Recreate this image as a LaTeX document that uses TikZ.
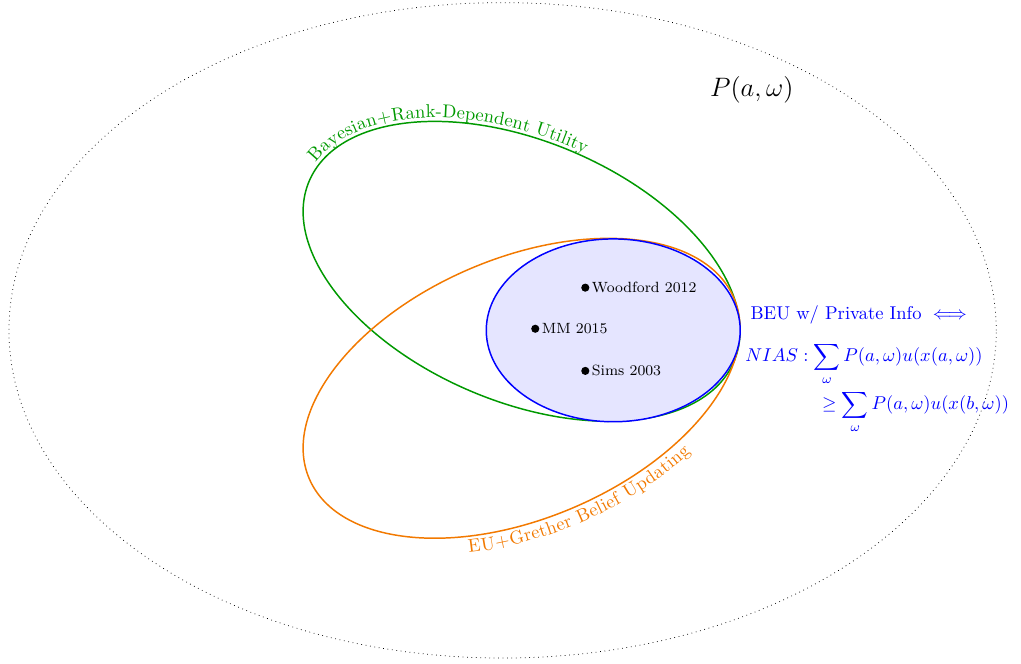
\documentclass[tikz,border=0pt]{standalone}
\usepackage{amsmath}
\usetikzlibrary{shapes.geometric,positioning,decorations.text}

\begin{document}
\begin{tikzpicture}[x=1cm,y=1cm,
  dot/.style={circle,fill=black,inner sep=0pt,minimum size=4.4pt},
  cite/.style={font=\footnotesize,inner sep=1pt},
  bayes/.style={draw=green!60!black,thick},
  grether/.style={draw=orange!95!black,thick}]
\useasboundingbox (-9.54,-6.33) rectangle (9.84,6.27);

\draw[dotted] (0,0) ellipse[x radius=9.37,y radius=6.22];
\node[font=\Large] (prob) at (4.73,4.56) {$P(a,\omega)$};

% Bayesian + RDU
\begin{scope}[shift={(0.36,1.12)},rotate=-23]
\draw[bayes] (0,0) ellipse[x radius=4.38,y radius=2.47];
\path[decorate,decoration={text along path,raise=2pt,text color=green!60!black,
  text={Bayesian+Rank-Dependent Utility}}]
  (172:4.38cm and 2.47cm) arc[start angle=172,end angle=50,x radius=4.38,y radius=2.47];
\end{scope}

% EU + Grether
\begin{scope}[shift={(0.36,-1.10)},rotate=23]
\draw[grether] (0,0) ellipse[x radius=4.38,y radius=2.47];
\path[decorate,decoration={text along path,raise=-9pt,text color=orange!95!black,
  text={EU+Grether Belief Updating}}]
  (242:4.38cm and 2.47cm) arc[start angle=242,end angle=325,x radius=4.38,y radius=2.47];
\end{scope}

\node[ellipse,draw=blue,thick,fill=blue!10,inner sep=0pt,
  minimum width=4.82cm,minimum height=3.47cm] (beu) at (2.1,0) {};

\node[dot] (woodford) at (1.57,0.81) {};
\node[cite,right=0pt of woodford] (woodfordlbl) {Woodford 2012};
\node[dot] (mm) at (0.62,0.03) {};
\node[cite,right=0pt of mm] (mmlbl) {MM 2015};
\node[dot] (sims) at (1.57,-0.77) {};
\node[cite,right=0pt of sims] (simslbl) {Sims 2003};

\node[blue,anchor=base west,inner sep=0pt] (beuinfo) at (4.70,0.20) {BEU w/ Private Info $\iff$};
\node[blue,anchor=base west,inner sep=0pt] (nias) at (4.60,-0.60)
  {$NIAS: \displaystyle\sum_\omega P(a,\omega)u(x(a,\omega))$};
\node[blue,anchor=base west,inner sep=0pt] (niasrhs) at (6.06,-1.51)
  {$\geq \displaystyle\sum_\omega P(a,\omega)u(x(b,\omega))$};
\end{tikzpicture}
\end{document}
